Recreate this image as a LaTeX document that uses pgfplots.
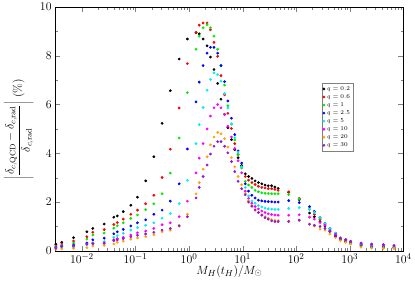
\documentclass[border=0pt]{standalone}
\usepackage{pgfplots}
\usepackage{pgfplotstable}
\pgfplotsset{compat=1.18}
\definecolor{cgreen}{RGB}{0,235,0}
\definecolor{ccyan}{RGB}{0,240,240}
\definecolor{cmag}{RGB}{255,0,255}
\definecolor{corange}{RGB}{255,165,0}
\definecolor{cpurple}{RGB}{150,20,215}
\pgfplotstableread{
M b r g bl c m o p
0.00327 0.27 0.20 0.17 0.14 0.12 0.12 0.06 0.10
0.00421 0.35 0.28 0.22 0.19 0.13 0.20 0.08 0.18
0.0070 0.54 0.40 0.32 0.24 0.15 0.20 0.10 0.20
0.0124 0.78 0.58 0.48 0.32 0.24 0.28 0.13 0.28
0.0160 0.92 0.76 0.65 0.45 0.33 0.30 0.20 0.29
0.0261 1.10 0.87 0.73 0.52 0.38 0.33 0.22 0.31
0.0394 1.38 1.08 0.93 0.70 0.55 0.45 0.28 0.42
0.0458 1.43 1.16 1.03 0.78 0.62 0.50 0.35 0.45
0.0592 1.61 1.30 1.15 0.88 0.72 0.55 0.40 0.50
0.0818 1.87 1.50 1.33 1.02 0.85 0.65 0.48 0.58
0.109 2.20 1.67 1.47 1.15 0.95 0.74 0.53 0.64
0.155 2.87 1.93 1.69 1.27 1.05 0.81 0.58 0.69
0.220 3.86 2.28 1.93 1.50 1.15 0.92 0.66 0.76
0.314 5.23 3.01 2.34 1.67 1.34 1.07 0.78 0.85
0.447 6.57 4.17 3.19 2.04 1.53 1.15 0.85 0.92
0.655 7.87 5.86 4.63 2.75 1.94 1.40 1.05 1.02
0.931 8.69 7.68 6.49 4.18 2.89 2.04 1.50 1.40
1.35 8.95 8.96 8.27 6.11 4.40 3.20 2.34 2.17
1.55 8.90 9.26 8.81 6.92 5.18 3.80 2.80 2.60
1.83 8.69 9.35 9.15 7.60 5.88 4.40 3.35 3.05
2.17 8.41 9.35 9.28 8.11 6.59 5.00 3.86 3.52
2.51 7.95 9.07 9.15 8.35 7.03 5.53 4.35 3.97
2.92 7.44 8.55 8.81 8.35 7.30 5.87 4.67 4.29
3.42 6.87 7.98 8.27 8.11 7.23 6.00 4.86 4.48
3.94 6.22 7.19 7.60 7.60 6.96 5.87 4.80 4.48
4.60 5.60 6.40 6.80 6.94 6.45 5.59 4.60 4.29
5.30 5.05 5.64 5.95 6.15 5.86 5.11 4.26 4.02
6.19 4.56 5.02 5.20 5.44 5.21 4.67 3.82 3.66
7.13 4.15 4.40 4.55 4.77 4.64 4.20 3.45 3.25
8.22 3.82 3.95 3.95 4.10 4.05 3.70 3.05 2.85
9.59 3.50 3.45 3.40 3.60 3.45 3.20 2.71 2.55
11.2 3.16 3.05 2.85 2.75 2.60 2.45 2.35 2.30
12.9 3.05 2.90 2.70 2.45 2.25 2.15 2.05 2.00
14.9 2.97 2.80 2.60 2.28 2.05 1.95 1.85 1.83
17.1 2.87 2.72 2.48 2.17 1.95 1.82 1.70 1.67
19.7 2.80 2.65 2.42 2.08 1.86 1.72 1.58 1.57
22.8 2.75 2.60 2.38 2.05 1.80 1.63 1.48 1.46
26.2 2.70 2.58 2.36 2.03 1.75 1.57 1.40 1.36
30.1 2.67 2.55 2.35 2.02 1.72 1.52 1.33 1.30
34.8 2.67 2.55 2.34 2.01 1.71 1.49 1.28 1.23
40.0 2.62 2.52 2.34 2.00 1.70 1.47 1.25 1.20
46.0 2.56 2.48 2.34 2.00 1.70 1.46 1.24 1.20
72.4 2.40 2.42 2.31 2.06 1.74 1.46 1.22 1.20
114 2.10 2.15 2.13 1.98 1.77 1.48 1.25 1.26
177 1.55 1.70 1.81 1.81 1.70 1.38 1.10 1.09
218 1.40 1.50 1.60 1.62 1.58 1.30 1.02 1.05
278 1.20 1.28 1.33 1.36 1.36 1.16 0.89 1.00
344 1.02 1.08 1.10 1.13 1.13 1.05 0.85 0.92
425 0.80 0.85 0.88 0.92 0.92 0.82 0.69 0.80
543 0.60 0.65 0.68 0.72 0.72 0.68 0.55 0.62
665 0.45 0.48 0.50 0.53 0.53 0.50 0.42 0.52
838 0.38 0.40 0.42 0.45 0.46 0.45 0.35 0.46
1035 0.30 0.32 0.34 0.37 0.38 0.38 0.28 0.39
1622 0.20 0.22 0.24 0.26 0.28 0.30 0.15 0.32
2553 0.16 0.18 0.19 0.21 0.23 0.25 0.11 0.28
4246 0.14 0.15 0.16 0.19 0.21 0.23 0.10 0.26
6683 0.12 0.13 0.14 0.16 0.18 0.20 0.10 0.22
}\data
\begin{document}
\begin{tikzpicture}
\begin{axis}[
  scale only axis, width=353pt, height=247pt,
  xmode=log, xmin=3.16e-3, xmax=1e4, ymin=0, ymax=10,
  ytick={0,2,4,6,8,10}, minor y tick num=1,
  xtick={1e-2,1e-1,1,10,100,1000,1e4},
  tick align=inside,
  major tick length=5pt, minor tick length=2.5pt,
  tick label style={font=\fontsize{13}{15}\selectfont},
  xticklabel style={yshift=1pt},
  xlabel={$M_H(t_H)/M_\odot$},
  xlabel style={font=\fontsize{13}{15}\selectfont, yshift=5pt},
  ylabel={$\left|\displaystyle\frac{\delta_{c,\mathrm{QCD}}-\delta_{c,\mathrm{rad}}}{\delta_{c,\mathrm{rad}}}\right|$ (\%)},
  ylabel style={font=\fontsize{12}{14}\selectfont, inner sep=4pt, yshift=-1pt},
  legend style={at={(0.765,0.688)}, anchor=north west, font=\fontsize{6.5}{7.5}\selectfont, draw=gray, inner sep=1pt, row sep=-1.2pt},
  legend cell align=left,
  every axis plot/.append style={only marks, mark=*, mark size=1.2pt},
]
\addplot[black, mark options={fill=black}] table[x=M,y=b]{\data};
\addplot[red, mark options={fill=red}] table[x=M,y=r]{\data};
\addplot[cgreen, mark options={fill=cgreen}] table[x=M,y=g]{\data};
\addplot[blue, mark options={fill=blue}] table[x=M,y=bl]{\data};
\addplot[ccyan, mark options={fill=ccyan}] table[x=M,y=c]{\data};
\addplot[cmag, mark options={fill=cmag}] table[x=M,y=m]{\data};
\addplot[corange, mark options={fill=corange}] table[x=M,y=o]{\data};
\addplot[cpurple, mark options={fill=cpurple}] table[x=M,y=p]{\data};
\legend{$q=0.2$,$q=0.6$,$q=1$,$q=2.5$,$q=5$,$q=10$,$q=20$,$q=30$}
\end{axis}
\end{tikzpicture}
\end{document}
